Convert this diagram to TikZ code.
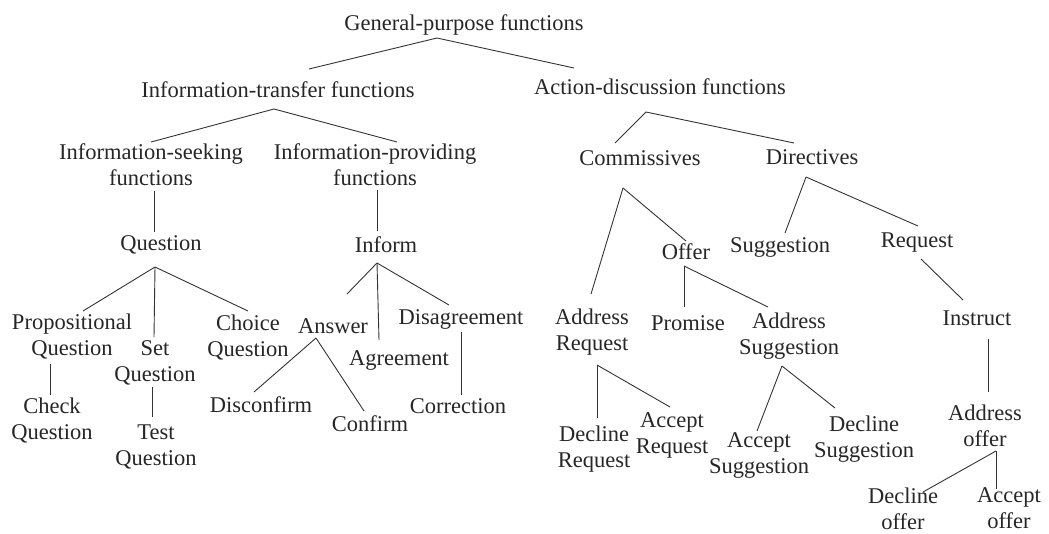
\documentclass[tikz,border=0pt]{standalone}
\usepackage{fontspec}
\setmainfont{Liberation Serif}
\usepackage{tikz}

\begin{document}
\begin{tikzpicture}[
      x=1pt, y=-1pt,
      every node/.style={align=center, inner sep=0pt, text=black!85, font=\fontsize{22.5}{26}\selectfont},
      branch/.style={draw=black!80, line width=0.9pt}
      ]
      \useasboundingbox (0,0) rectangle (1049,533);
      \node (general) at (464,25) {General-purpose functions};
      \node (transfer) at (278,90) {Information-transfer functions};
      \node (action) at (660,87) {Action-discussion functions};
      \node (seeking) at (151,164.5) {Information-seeking\\functions};
      \node (providing) at (375,164.5) {Information-providing\\functions};
      \node (question) at (161,245) {Question};
      \node (inform) at (386,245) {Inform};
      \node (propositional) at (72,336.5) {Propositional\\Question};
      \node (setq) at (155,362.5) {Set\\Question};
      \node (choice) at (248,337.5) {Choice\\Question};
      \node (check) at (52,420.5) {Check\\Question};
      \node (test) at (156,446.5) {Test\\Question};
      \node (answer) at (333,326) {Answer};
      \node (agreement) at (399,360) {Agreement};
      \node (disagreement) at (461,319) {Disagreement};
      \node (disconfirm) at (261,405) {Disconfirm};
      \node (confirm) at (370,424) {Confirm};
      \node (correction) at (458,406) {Correction};
      \node (commissives) at (640,158) {Commissives};
      \node (directives) at (812,157) {Directives};
      \node (offer) at (686,252) {Offer};
      \node (suggestion) at (780,247) {Suggestion};
      \node (request) at (917,243) {Request};
      \node (addrequest) at (592,332) {Address\\Request};
      \node (promise) at (688,323) {Promise};
      \node (addsuggestion) at (789,336) {Address\\Suggestion};
      \node (instruct) at (977,318) {Instruct};
      \node (declinerequest) at (594,449.5) {Decline\\Request};
      \node (acceptrequest) at (672,435.5) {Accept\\Request};
      \node (acceptsuggestion) at (759,455.5) {Accept\\Suggestion};
      \node (declinesuggestion) at (864,439.5) {Decline\\Suggestion};
      \node (addoffer) at (985,425.5) {Address\\offer};
      \node (declineoffer) at (903,508.5) {Decline\\offer};
      \node (acceptoffer) at (1009,508.5) {Accept\\offer};
      \path ([shift={(-27,13)}]general.center) edge [branch] ([shift={(31,-21)}]transfer.center);
      \path ([shift={(-27,13)}]general.center) edge [branch] ([shift={(-86,-19)}]action.center);
      \path ([shift={(-4,19)}]transfer.center) edge [branch] ([shift={(0,-22.5)}]seeking.center);
      \path ([shift={(-4,19)}]transfer.center) edge [branch] ([shift={(22,-22.5)}]providing.center);
      \path ([shift={(3,26.5)}]seeking.center) edge [branch] ([shift={(-7,-13)}]question.center);
      \path ([shift={(2,25.5)}]providing.center) edge [branch] ([shift={(-9,-14)}]inform.center);
      \path ([shift={(-6,22)}]question.center) edge [branch] ([shift={(11,-25.5)}]propositional.center);
      \path ([shift={(-6,22)}]question.center) edge [branch] ([shift={(-1,-25.5)}]setq.center);
      \path ([shift={(-6,22)}]question.center) edge [branch] ([shift={(0,-26.5)}]choice.center);
      \path ([shift={(-22,27.5)}]propositional.center) edge [branch] ([shift={(-2,-25.5)}]check.center);
      \path ([shift={(-3,24.5)}]setq.center) edge [branch] ([shift={(-4,-29.5)}]test.center);
      \path ([shift={(-9,18)}]inform.center) edge [branch] ([shift={(14,-32)}]answer.center);
      \path ([shift={(-9,18)}]inform.center) edge [branch] ([shift={(-20,-20)}]agreement.center);
      \path ([shift={(-9,18)}]inform.center) edge [branch] ([shift={(-12,-14)}]disagreement.center);
      \path ([shift={(-17,12)}]answer.center) edge [branch] ([shift={(-7,-13)}]disconfirm.center);
      \path ([shift={(-17,12)}]answer.center) edge [branch] ([shift={(-6,-13)}]confirm.center);
      \path ([shift={(0,13)}]disagreement.center) edge [branch] ([shift={(3,-11)}]correction.center);
      \path ([shift={(-14,25)}]action.center) edge [branch] ([shift={(-25,-15)}]commissives.center);
      \path ([shift={(-14,25)}]action.center) edge [branch] ([shift={(-18,-14)}]directives.center);
      \path ([shift={(-17,30)}]commissives.center) edge [branch] ([shift={(-1,-38)}]addrequest.center);
      \path ([shift={(-17,30)}]commissives.center) edge [branch] ([shift={(0,-11)}]offer.center);
      \path ([shift={(-6,20)}]directives.center) edge [branch] ([shift={(5,-14)}]suggestion.center);
      \path ([shift={(-6,20)}]directives.center) edge [branch] ([shift={(1,-17)}]request.center);
      \path ([shift={(4,16)}]request.center) edge [branch] ([shift={(-14,-18)}]instruct.center);
      \path ([shift={(-2,14)}]offer.center) edge [branch] ([shift={(-4,-16)}]promise.center);
      \path ([shift={(-2,14)}]offer.center) edge [branch] ([shift={(-21,-29)}]addsuggestion.center);
      \path ([shift={(5,33)}]addrequest.center) edge [branch] ([shift={(3,-31.5)}]declinerequest.center);
      \path ([shift={(5,33)}]addrequest.center) edge [branch] ([shift={(-2,-28.5)}]acceptrequest.center);
      \path ([shift={(-7,30)}]addsuggestion.center) edge [branch] ([shift={(-2,-24.5)}]acceptsuggestion.center);
      \path ([shift={(-7,30)}]addsuggestion.center) edge [branch] ([shift={(-29,-31.5)}]declinesuggestion.center);
      \path ([shift={(11,21)}]instruct.center) edge [branch] ([shift={(3,-33.5)}]addoffer.center);
      \path ([shift={(11,25.5)}]addoffer.center) edge [branch] ([shift={(20,-16.5)}]declineoffer.center);
      \path ([shift={(11,25.5)}]addoffer.center) edge [branch] ([shift={(-13,-19.5)}]acceptoffer.center);
    \end{tikzpicture}
\end{document}
